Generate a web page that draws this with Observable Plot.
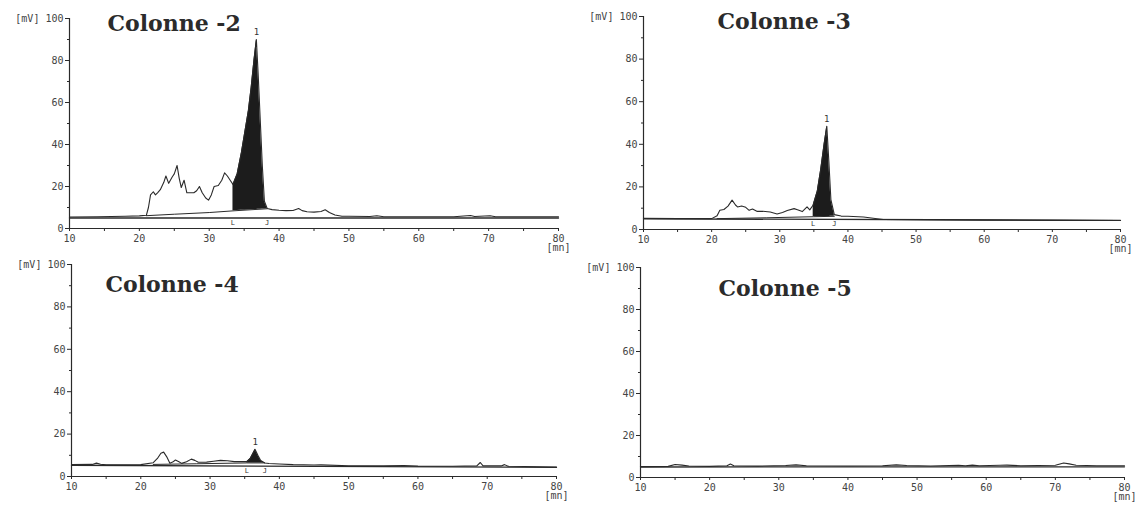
<!DOCTYPE html>
<html><head><meta charset="utf-8">
<script src="https://cdn.jsdelivr.net/npm/d3@7"></script>
<script src="https://cdn.jsdelivr.net/npm/@observablehq/plot@0.6"></script>
<style>
body{margin:0;background:#fff;}
#wrap{position:relative;width:1143px;height:509px;overflow:hidden;background:#fff;}
#wrap>svg{position:absolute;}
</style></head><body><div id="wrap"></div>
<script>
// ---------- data ----------
const titles = ["Colonne -2", "Colonne -3", "Colonne -4", "Colonne -5"];
const xTicks = [10,15,20,25,30,35,40,45,50,55,60,65,70,75,80];
const yMajor = [0,20,40,60,80,100];
const yMinor = [10,30,50,70,90];
const yUnit = "[mV]";
const xUnit = "[mn]";
const peakName = "1";

// Colonne -2
const col2T = [10,14,18,20,21.0,21.3,21.6,22.0,22.3,22.6,23.0,23.5,23.8,24.2,24.7,25.0,25.4,25.7,26.0,26.4,26.8,27.3,27.8,28.2,28.6,29.0,29.5,29.9,30.3,30.7,31.3,31.8,32.2,32.6,33.0,33.4,34.0,34.6,35.1,35.6,36.0,36.4,36.75,37.0,37.3,37.6,37.9,38.3,39,40,41,42,42.8,43.3,44,45,46,46.6,47.2,48,49,50,53,54,55,60,65,67.4,68,70.2,71,80];
const col2V = [5.5,5.6,5.8,6.0,6.3,10,16,17.5,16,17,18.5,22,25,21.5,24.5,26,30,24,19.5,23,17,17,17,18,20,17,14.5,13.5,16,20,20.5,23,26.5,25,23,21,26,36,46,56,67,80,90,74,52,30,13,9.5,9,8.7,8.5,8.6,9.5,8.5,8,7.8,8.1,8.9,7.6,6.4,5.8,5.8,5.7,6.1,5.6,5.6,5.6,6.2,5.7,6.1,5.6,5.6];
const col2LowT = [21.0,25,30,33.4,38.3];
const col2LowV = [6.1,6.8,7.6,8.4,9.4];
const col2Window = [33.4,38.3];

// Colonne -3
const col3T = [10,15,20,20.8,21.2,21.8,22.4,23.0,23.5,23.8,24.4,25.0,25.5,26.0,26.7,27.5,28.6,29.6,30.4,31.1,32.1,32.7,33.3,34.0,34.4,34.9,35.5,36.0,36.5,36.9,37.2,37.5,38.0,39,40,42.3,44,45.2,50,60,70,80];
const col3V = [5.2,5.1,5.1,6.5,9,9.4,11,13.8,11.5,10.6,11,10.4,9,9.6,8.5,8.6,8.2,7.3,8,8.9,9.8,9.2,8.4,10.6,9.2,11.5,18,28,40,48.5,32,14,7,6.3,6.2,5.9,5.2,4.7,4.6,4.4,4.3,4.2];
const col3LowT = [20.8,28,34.9,38.0];
const col3LowV = [5.1,5.5,6.0,6.2];
const col3Window = [34.9,38.0];

// Colonne -4
const col4T = [10,13,13.6,14.2,15,20,21.8,22.4,22.9,23.3,23.8,24.2,24.6,25.0,25.5,25.9,26.6,27.3,27.8,28.3,29.5,30.5,31.5,32.5,33.5,34.5,35.3,35.8,36.2,36.5,36.9,37.3,37.9,38.5,40,42,45,46,50,55,58,60,65,68.5,69.0,69.4,72,72.5,73,80];
const col4V = [5.6,5.7,6.3,5.8,5.5,5.6,6.5,8.5,11,11.5,9,6.3,6.8,7.8,7,6.2,7,8.2,7.6,6.7,6.8,7.2,7.6,7.4,7.0,7.1,7.0,8.5,11,12.8,10,7.5,6.4,6.1,5.9,5.6,5.4,5.5,5.1,5.0,5.2,4.9,4.8,5.0,6.6,5.0,5.0,5.6,4.8,4.5];
const col4LowT = [21.8,28,35.3,37.9];
const col4LowV = [5.7,6.0,6.4,6.4];
const col4Window = [35.3,37.9];

// Colonne -5
const col5T = [10,14,15,16,17,20,22.5,23,23.5,27,31,32.5,34,40,45,47,48.5,52,56,57,58,59,62,63,65,70,71.2,72,73,76,80];
const col5V = [5.2,5.3,6.2,5.9,5.5,5.3,5.6,6.4,5.6,5.4,5.7,6.0,5.6,5.5,5.6,6.0,5.7,5.5,5.8,5.6,5.9,5.6,5.8,5.9,5.6,5.8,6.9,6.5,5.8,5.6,5.6];

// horizontal drawn baselines (start/end value)
const baseT = [10,80];
const col2Base = [5.0,5.0];
const col3Base = [5.0,4.3];
const col4Base = [5.3,4.3];
const col5Base = [5.0,5.1];

// ---------- helpers ----------
function interp(T, V, x) {
  const i = d3.bisectRight(T, x);
  if (i <= 0) return V[0];
  if (i >= T.length) return V[V.length - 1];
  const t = (x - T[i-1]) / (T[i] - T[i-1]);
  return V[i-1] + t * (V[i] - V[i-1]);
}
const zip = (T, V) => T.map((t, i) => ({x: t, y: V[i]}));

const panels = [
  {T: col2T, V: col2V, LT: col2LowT, LV: col2LowV, W: col2Window, B: col2Base},
  {T: col3T, V: col3V, LT: col3LowT, LV: col3LowV, W: col3Window, B: col3Base},
  {T: col4T, V: col4V, LT: col4LowT, LV: col4LowV, W: col4Window, B: col4Base},
  {T: col5T, V: col5V, LT: null, LV: null, W: null, B: col5Base}
];

const geom = [
  {left:0,   top:0,   width:571, height:255, mL:69, mR:13, mT:18, mB:27, tdx:38, tdy:5},
  {left:571, top:0,   width:572, height:255, mL:72, mR:23, mT:16, mB:26, tdx:74, tdy:5},
  {left:0,   top:250, width:571, height:259, mL:71, mR:15, mT:14, mB:33, tdx:34, tdy:20},
  {left:571, top:250, width:572, height:259, mL:69, mR:19, mT:17, mB:32, tdx:78, tdy:21}
];

const ink = "#2a2a2a";
const mono = "DejaVu Sans Mono";
const wrap = document.getElementById("wrap");

panels.forEach((p, k) => {
  const g = geom[k];
  const sig = zip(p.T, p.V);
  const marks = [
    Plot.ruleY([yMajor[0]], {stroke: ink, strokeWidth: 1.2}),
    Plot.ruleX([xTicks[0]], {stroke: ink, strokeWidth: 1.2}),
    Plot.axisY({ticks: yMajor, label: null, tickSize: 4, tickPadding: 2, fontFamily: mono, fontSize: 10, fill: "#444", stroke: ink,
      tickFormat: d => d === yMajor[yMajor.length-1] ? `${yUnit} ${d}` : `${d}`}),
    Plot.axisY({ticks: yMinor, label: null, tickSize: 2, tickFormat: () => "", stroke: ink}),
    Plot.axisX({ticks: xTicks, label: null, tickSize: 3, tickPadding: 4, fontFamily: mono, fontSize: 10, fill: "#444", stroke: ink, lineHeight: 0.9,
      tickFormat: d => d % 10 !== 0 ? "" : (d === xTicks[xTicks.length-1] ? `${d}\n${xUnit}` : `${d}`)}),
    Plot.line(zip(baseT, p.B), {x: "x", y: "y", stroke: ink, strokeWidth: 1.3})
  ];
  if (p.LT) {
    const [a, b] = p.W;
    const fillPts = [{x: a, y: interp(p.T, p.V, a)}]
      .concat(sig.filter(d => d.x > a && d.x < b))
      .concat([{x: b, y: interp(p.T, p.V, b)}]);
    marks.push(
      Plot.line(zip(p.LT, p.LV), {x: "x", y: "y", stroke: ink, strokeWidth: 1}),
      Plot.areaY(fillPts, {x: "x", y1: d => interp(p.LT, p.LV, d.x), y2: "y", fill: "#1c1c1c", curve: "linear"})
    );
    const top = d3.greatest(fillPts, d => d.y);
    marks.push(
      Plot.text([top], {x: "x", y: "y", text: () => peakName, dy: -7, fontFamily: mono, fontSize: 9, fill: "#333"}),
      Plot.text(p.W, {x: d => d, y: yMajor[0], text: (d, i) => i ? "J" : "L", dy: -6, fontFamily: mono, fontSize: 7, fill: "#333"})
    );
  }
  marks.push(
    Plot.line(sig, {x: "x", y: "y", stroke: ink, strokeWidth: 1.1}),
    Plot.text([titles[k]], {frameAnchor: "top-left", dx: g.tdx, dy: g.tdy, textAnchor: "start", lineAnchor: "middle",
      fontFamily: "DejaVu Serif", fontWeight: "bold", fontSize: 22, fill: "#2b2b2b"})
  );
  const svg = Plot.plot({
    width: g.width, height: g.height,
    marginLeft: g.mL, marginRight: g.mR, marginTop: g.mT, marginBottom: g.mB,
    x: {domain: [xTicks[0], xTicks[xTicks.length-1]], axis: null},
    y: {domain: [yMajor[0], yMajor[yMajor.length-1]], axis: null},
    style: {background: "transparent", overflow: "visible"},
    marks
  });
  svg.style.left = g.left + "px";
  svg.style.top = g.top + "px";
  wrap.appendChild(svg);
});
</script></body></html>
